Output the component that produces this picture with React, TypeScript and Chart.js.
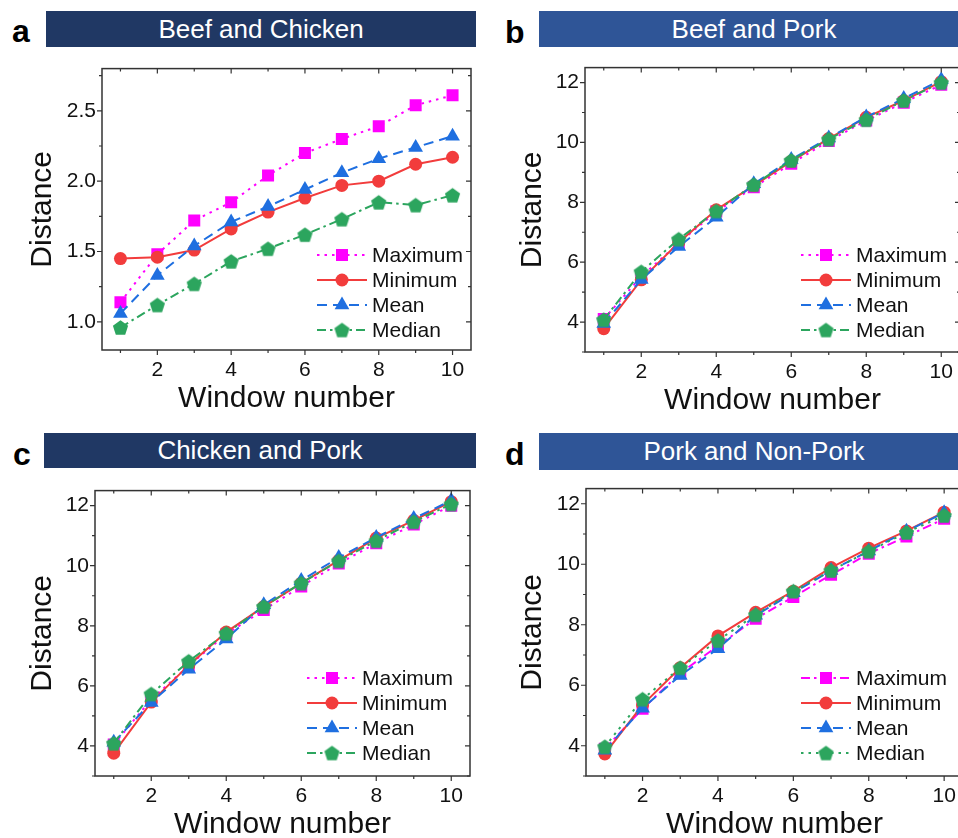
import React, { useEffect, useRef } from 'react';
import { Chart, registerables } from 'chart.js';

Chart.register(...registerables);

const FONT = '"Liberation Sans", Arial, Helvetica, sans-serif';

// ---------- data ----------
const windowNumbers = [1, 2, 3, 4, 5, 6, 7, 8, 9, 10];
const seriesNames = ['Maximum', 'Minimum', 'Mean', 'Median'];
const seriesColors = ['#ff00ff', '#f23c3c', '#1f6fe0', '#2ca55e'];

const xTickValues = [2, 4, 6, 8, 10];
const yTicksBeefChicken = [1.0, 1.5, 2.0, 2.5];
const yTicksDistance = [4, 6, 8, 10, 12];

// a: Beef and Chicken
const beefChickenMax = [1.14, 1.48, 1.72, 1.85, 2.04, 2.2, 2.3, 2.39, 2.54, 2.61];
const beefChickenMin = [1.45, 1.46, 1.51, 1.66, 1.78, 1.88, 1.97, 2.0, 2.12, 2.17];
const beefChickenMean = [1.06, 1.33, 1.54, 1.71, 1.82, 1.94, 2.06, 2.16, 2.24, 2.32];
const beefChickenMedian = [0.96, 1.12, 1.27, 1.43, 1.52, 1.62, 1.73, 1.85, 1.83, 1.9];

// b: Beef and Pork
const beefPorkMax = [4.1, 5.52, 6.64, 7.69, 8.5, 9.29, 10.05, 10.73, 11.33, 11.93];
const beefPorkMin = [3.78, 5.41, 6.66, 7.75, 8.56, 9.37, 10.13, 10.84, 11.4, 12.03];
const beefPorkMean = [3.95, 5.42, 6.52, 7.5, 8.62, 9.43, 10.15, 10.85, 11.47, 12.09];
const beefPorkMedian = [4.08, 5.68, 6.77, 7.71, 8.59, 9.4, 10.11, 10.76, 11.4, 12.0];

// c: Chicken and Pork
const chickenPorkMax = [4.05, 5.55, 6.67, 7.72, 8.53, 9.31, 10.07, 10.75, 11.37, 12.0];
const chickenPorkMin = [3.76, 5.46, 6.69, 7.79, 8.64, 9.42, 10.18, 10.92, 11.51, 12.13];
const chickenPorkMean = [4.12, 5.45, 6.55, 7.56, 8.7, 9.51, 10.27, 10.94, 11.57, 12.17];
const chickenPorkMedian = [4.09, 5.73, 6.82, 7.75, 8.64, 9.42, 10.16, 10.83, 11.46, 12.05];

// d: Pork and Non-Pork
const porkNonPorkMax = [3.9, 5.22, 6.4, 7.3, 8.2, 8.92, 9.65, 10.35, 10.92, 11.5];
const porkNonPorkMin = [3.73, 5.35, 6.58, 7.63, 8.41, 9.11, 9.89, 10.53, 11.1, 11.72];
const porkNonPorkMean = [3.85, 5.24, 6.32, 7.21, 8.31, 9.06, 9.79, 10.44, 11.09, 11.7];
const porkNonPorkMedian = [3.97, 5.54, 6.58, 7.48, 8.33, 9.11, 9.79, 10.43, 11.05, 11.61];

// ---------- styles ----------
const SOLID: number[] = [];
const DOT = [2.5, 5];
const DASH = [10, 6];
const DASHDOT = [9, 4, 2.5, 4];

const NAVY = '#203864';
const BLUE = '#2f5597';

type Area = { l: number; t: number; r: number; b: number };
type PanelCfg = {
  letter: string;
  letterTop: number;
  letterLeft: number;
  title: string;
  barColor: string;
  bar: { x: number; y: number; w: number; h: number };
  series: number[][];
  dashes: number[][];
  yMin: number;
  yMax: number;
  yTicks: number[];
  yDecimals: number;
  area: Area;
  titleGap: number;
  legendX: number;
  legendBottom: number;
};

const panels: PanelCfg[] = [
  {
    letter: 'a', letterTop: 15, letterLeft: 12,
    title: 'Beef and Chicken', barColor: NAVY, bar: { x: 46, y: 11, w: 430, h: 36 },
    series: [beefChickenMax, beefChickenMin, beefChickenMean, beefChickenMedian],
    dashes: [DOT, SOLID, DASH, DASHDOT],
    yMin: 0.8, yMax: 2.8, yTicks: yTicksBeefChicken, yDecimals: 1,
    area: { l: 102, t: 62, r: 471, b: 350 }, titleGap: 59, legendX: 154, legendBottom: 20,
  },
  {
    letter: 'b', letterTop: 16, letterLeft: 505,
    title: 'Beef and Pork', barColor: BLUE, bar: { x: 539, y: 11, w: 430, h: 36 },
    series: [beefPorkMax, beefPorkMin, beefPorkMean, beefPorkMedian],
    dashes: [DOT, SOLID, DASH, DASHDOT],
    yMin: 3, yMax: 12.5, yTicks: yTicksDistance, yDecimals: 0,
    area: { l: 585, t: 61, r: 960, b: 352 }, titleGap: 52, legendX: 159, legendBottom: 22,
  },
  {
    letter: 'c', letterTop: 438, letterLeft: 13,
    title: 'Chicken and Pork', barColor: NAVY, bar: { x: 44, y: 433, w: 432, h: 35 },
    series: [chickenPorkMax, chickenPorkMin, chickenPorkMean, chickenPorkMedian],
    dashes: [DOT, SOLID, DASH, DASHDOT],
    yMin: 3, yMax: 12.5, yTicks: yTicksDistance, yDecimals: 0,
    area: { l: 95, t: 484, r: 470, b: 776 }, titleGap: 52, legendX: 163, legendBottom: 23,
  },
  {
    letter: 'd', letterTop: 438, letterLeft: 505,
    title: 'Pork and Non-Pork', barColor: BLUE, bar: { x: 539, y: 433, w: 430, h: 37 },
    series: [porkNonPorkMax, porkNonPorkMin, porkNonPorkMean, porkNonPorkMedian],
    dashes: [DASHDOT, SOLID, DASH, DOT],
    yMin: 3, yMax: 12.5, yTicks: yTicksDistance, yDecimals: 0,
    area: { l: 586, t: 482, r: 963, b: 776 }, titleGap: 53, legendX: 162, legendBottom: 23,
  },
];

const Y_AXIS_W = 100;
const X_AXIS_H = 70;
const PAD_TOP = 12;
const PAD_RIGHT = 10;

function makePentagon(color: string, r: number): HTMLCanvasElement {
  const size = Math.ceil(2 * r + 3);
  const c = document.createElement('canvas');
  c.width = size;
  c.height = size;
  const ctx = c.getContext('2d')!;
  ctx.fillStyle = color;
  ctx.beginPath();
  for (let k = 0; k < 5; k++) {
    const a = -Math.PI / 2 + (k * 2 * Math.PI) / 5;
    const px = size / 2 + r * Math.cos(a);
    const py = size / 2 + r * Math.sin(a) + r * 0.09;
    if (k === 0) ctx.moveTo(px, py);
    else ctx.lineTo(px, py);
  }
  ctx.closePath();
  ctx.fill();
  return c;
}

function drawMarker(ctx: CanvasRenderingContext2D, style: any, x: number, y: number, r: number, color: string) {
  if (typeof style !== 'string') {
    ctx.drawImage(style, x - style.width / 2, y - style.height / 2);
    return;
  }
  ctx.fillStyle = color;
  ctx.beginPath();
  if (style === 'circle') {
    ctx.arc(x, y, r, 0, Math.PI * 2);
  } else if (style === 'rect') {
    const s = r * Math.SQRT1_2;
    ctx.rect(x - s, y - s, 2 * s, 2 * s);
  } else if (style === 'triangle') {
    for (let k = 0; k < 3; k++) {
      const a = (k * 2 * Math.PI) / 3;
      const px = x + Math.sin(a) * r;
      const py = y - Math.cos(a) * r;
      if (k === 0) ctx.moveTo(px, py);
      else ctx.lineTo(px, py);
    }
    ctx.closePath();
  }
  ctx.fill();
}

const frameTicksPlugin = {
  id: 'frameTicks',
  afterDatasetsDraw(chart: any) {
    const { ctx, chartArea: a, scales } = chart;
    const xs = scales.x;
    const ys = scales.y;
    ctx.save();
    ctx.strokeStyle = '#333';
    ctx.lineWidth = 1.5;
    ctx.setLineDash([]);
    ctx.strokeRect(a.left, a.top, a.right - a.left, a.bottom - a.top);
    ctx.lineWidth = 1.2;
    const majorLen = 5;
    const minorLen = 3;
    // x ticks
    const xMaj = xs.ticks.map((t: any) => t.value);
    const xStep = xMaj.length > 1 ? xMaj[1] - xMaj[0] : 1;
    const xMinor: number[] = [];
    for (let v = xMaj[0] - xStep / 2; v <= xs.max; v += xStep) if (v >= xs.min) xMinor.push(v);
    ctx.beginPath();
    xMaj.forEach((v: number) => {
      const p = xs.getPixelForValue(v);
      ctx.moveTo(p, a.bottom); ctx.lineTo(p, a.bottom + majorLen);
      ctx.moveTo(p, a.top); ctx.lineTo(p, a.top + majorLen);
    });
    xMinor.forEach((v: number) => {
      const p = xs.getPixelForValue(v);
      ctx.moveTo(p, a.bottom); ctx.lineTo(p, a.bottom + minorLen);
      ctx.moveTo(p, a.top); ctx.lineTo(p, a.top + minorLen);
    });
    // y ticks
    const yMaj = ys.ticks.map((t: any) => t.value);
    const yStep = yMaj.length > 1 ? yMaj[1] - yMaj[0] : 1;
    const yMinor: number[] = [];
    for (let v = yMaj[0] - yStep / 2; v <= ys.max + 1e-9; v += yStep) if (v >= ys.min - 1e-9) yMinor.push(v);
    yMaj.forEach((v: number) => {
      const p = ys.getPixelForValue(v);
      ctx.moveTo(a.left, p); ctx.lineTo(a.left - majorLen, p);
      ctx.moveTo(a.right, p); ctx.lineTo(a.right - majorLen, p);
    });
    yMinor.forEach((v: number) => {
      const p = ys.getPixelForValue(v);
      ctx.moveTo(a.left, p); ctx.lineTo(a.left - minorLen, p);
      ctx.moveTo(a.right, p); ctx.lineTo(a.right - minorLen, p);
    });
    ctx.stroke();
    ctx.restore();
  },
};

const insideLegendPlugin = {
  id: 'insideLegend',
  afterDraw(chart: any, _args: any, opts: any) {
    const { ctx, chartArea: a } = chart;
    const ds = chart.data.datasets;
    const n = ds.length;
    const x0 = a.right - opts.x;
    ctx.save();
    for (let i = 0; i < n; i++) {
      const d = ds[i];
      const y = a.bottom - opts.bottom - (n - 1 - i) * 25;
      ctx.strokeStyle = d.borderColor;
      ctx.lineWidth = d.borderWidth;
      ctx.setLineDash(d.borderDash || []);
      ctx.beginPath();
      ctx.moveTo(x0, y);
      ctx.lineTo(x0 + 50, y);
      ctx.stroke();
      ctx.setLineDash([]);
      drawMarker(ctx, d.pointStyle, x0 + 25, y, d.pointRadius, d.borderColor);
      ctx.fillStyle = '#111';
      ctx.font = `21px ${FONT}`;
      ctx.textAlign = 'left';
      ctx.textBaseline = 'middle';
      ctx.fillText(d.label, x0 + 55, y + 1);
    }
    ctx.restore();
  },
};

function Panel({ cfg }: { cfg: PanelCfg }) {
  const ref = useRef<HTMLCanvasElement>(null);
  const { area } = cfg;
  const cx = area.l - Y_AXIS_W;
  const cy = area.t - PAD_TOP;
  const cw = area.r - area.l + Y_AXIS_W + PAD_RIGHT;
  const ch = area.b - area.t + PAD_TOP + X_AXIS_H;

  useEffect(() => {
    if (!ref.current) return;
    const pointStyles: any[] = ['rect', 'circle', 'triangle', makePentagon(seriesColors[3], 8)];
    const radii = [8.5, 6.5, 8.5, 8];
    const datasets = cfg.series.map((vals, i) => ({
      label: seriesNames[i],
      data: vals.map((v, j) => ({ x: windowNumbers[j], y: v })),
      borderColor: seriesColors[i],
      backgroundColor: seriesColors[i],
      borderWidth: 2,
      borderDash: cfg.dashes[i],
      pointStyle: pointStyles[i],
      pointRadius: radii[i],
      pointBackgroundColor: seriesColors[i],
      pointBorderColor: seriesColors[i],
      pointBorderWidth: 0,
      tension: 0,
      fill: false,
      order: 3 - i,
    }));
    const chart = new Chart(ref.current, {
      type: 'line',
      data: { datasets },
      options: {
        animation: false,
        responsive: false,
        devicePixelRatio: 1,
        events: [],
        layout: { padding: { left: 0, top: PAD_TOP, right: PAD_RIGHT, bottom: 0 }, autoPadding: false },
        plugins: {
          legend: { display: false },
          tooltip: { enabled: false },
          insideLegend: { x: cfg.legendX, bottom: cfg.legendBottom },
        } as any,
        scales: {
          x: {
            type: 'linear',
            min: 0.5,
            max: 10.5,
            grid: { display: false, drawTicks: false },
            border: { display: false },
            afterBuildTicks: (s: any) => { s.ticks = xTickValues.map((v) => ({ value: v })); },
            afterFit: (s: any) => { s.height = X_AXIS_H; },
            ticks: { font: { family: FONT, size: 21 }, color: '#111', padding: 8, maxRotation: 0, autoSkip: false, callback: (v: any) => String(v) },
            title: { display: true, text: 'Window number', font: { family: FONT, size: 30 }, color: '#111', padding: { top: 0, bottom: 3 } },
          },
          y: {
            type: 'linear',
            min: cfg.yMin,
            max: cfg.yMax,
            grid: { display: false, drawTicks: false },
            border: { display: false },
            afterBuildTicks: (s: any) => { s.ticks = cfg.yTicks.map((v) => ({ value: v })); },
            afterFit: (s: any) => { s.width = Y_AXIS_W; },
            ticks: { font: { family: FONT, size: 21 }, color: '#111', padding: 6, autoSkip: false, callback: (v: any) => Number(v).toFixed(cfg.yDecimals) },
            title: { display: true, text: 'Distance', font: { family: FONT, size: 30 }, color: '#111', padding: { top: Y_AXIS_W - 18 - cfg.titleGap, bottom: 0 } },
          },
        } as any,
      },
      plugins: [frameTicksPlugin, insideLegendPlugin],
    });
    return () => chart.destroy();
  }, []);

  return (
    <>
      <div
        style={{
          position: 'absolute', left: cfg.letterLeft, top: cfg.letterTop, fontFamily: FONT,
          fontWeight: 'bold', fontSize: 32, lineHeight: '32px', color: '#000',
        }}
      >
        {cfg.letter}
      </div>
      <div
        style={{
          position: 'absolute', left: cfg.bar.x, top: cfg.bar.y, width: cfg.bar.w, height: cfg.bar.h,
          background: cfg.barColor, color: '#fff', fontFamily: FONT, fontSize: 26,
          lineHeight: `${cfg.bar.h}px`, textAlign: 'center', whiteSpace: 'nowrap',
        }}
      >
        {cfg.title}
      </div>
      <canvas
        ref={ref}
        width={cw}
        height={ch}
        style={{ position: 'absolute', left: cx, top: cy, width: cw, height: ch }}
      />
    </>
  );
}

export default function App() {
  return (
    <div
      style={{
        position: 'fixed', left: 0, top: 0, width: 958, height: 838, overflow: 'hidden', background: '#fff',
      }}
    >
      {panels.map((p) => (
        <Panel key={p.letter} cfg={p} />
      ))}
    </div>
  );
}
